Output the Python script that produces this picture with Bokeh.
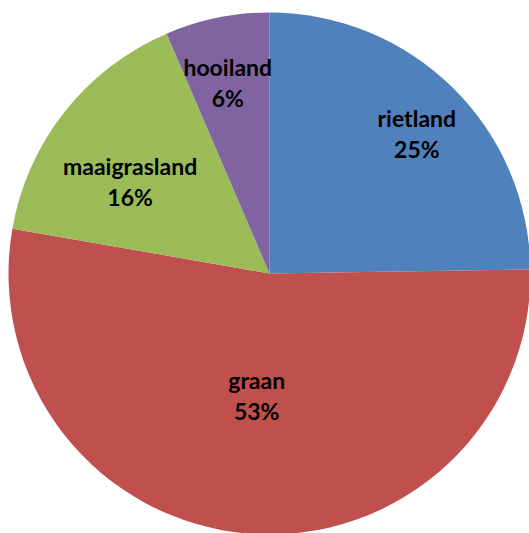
import math
from bokeh.plotting import figure
from bokeh.models import Range1d, ColumnDataSource
from bokeh.core.properties import value
from bokeh.embed import file_html
from bokeh.resources import INLINE

categories = ["rietland", "graan", "maaigrasland", "hooiland"]
shares = [24.75, 53.0, 15.8, 6.45]
colors = ["#4F81BD", "#C0504D", "#9BBB59", "#8064A2"]

# label placement (radius fraction, angle tweak in degrees)
label_rfrac = [0.78, 0.47, 0.64, 0.75]
label_dang = [-1.8, -1.5, 4.9, 0.7]

W, H = 529, 533
cx, cy, R = 269, 260, 261

p = figure(width=W, height=H, output_backend="svg", toolbar_location=None,
           x_range=Range1d(0, W), y_range=Range1d(0, H), min_border=0)
p.axis.visible = False
p.grid.visible = False
p.outline_line_color = None
p.background_fill_color = "white"

total = sum(shares)
starts, ends, mids = [], [], []
cum = 0.0
for s in shares:
    a0 = 90 - cum / total * 360
    cum += s
    a1 = 90 - cum / total * 360
    starts.append(a0)
    ends.append(a1)
    mids.append((a0 + a1) / 2)

src = ColumnDataSource(dict(start=starts, end=ends, color=colors))
p.wedge(x=cx, y=cy, radius=R, start_angle="start", end_angle="end",
        start_angle_units="deg", end_angle_units="deg", direction="clock",
        fill_color="color", line_color=None, source=src)

lx, ly, names, pcts = [], [], [], []
for i, c in enumerate(categories):
    ang = math.radians(mids[i] + label_dang[i])
    r = label_rfrac[i] * R
    lx.append(cx + r * math.cos(ang))
    ly.append(cy + r * math.sin(ang))
    names.append(c)
    pcts.append(f"{round(shares[i] / total * 100)}%")

lsrc = ColumnDataSource(dict(x=lx, y=ly, name=names, pct=pcts))
common = dict(text_font=value("Lato"), text_font_style="bold", text_font_size="23px",
              text_color="black", text_align="center", text_baseline="middle", source=lsrc)
p.text(x="x", y="y", text="name", y_offset=-15, **common)
p.text(x="x", y="y", text="pct", y_offset=16, **common)

open("out.html", "w").write(file_html(p, INLINE))
